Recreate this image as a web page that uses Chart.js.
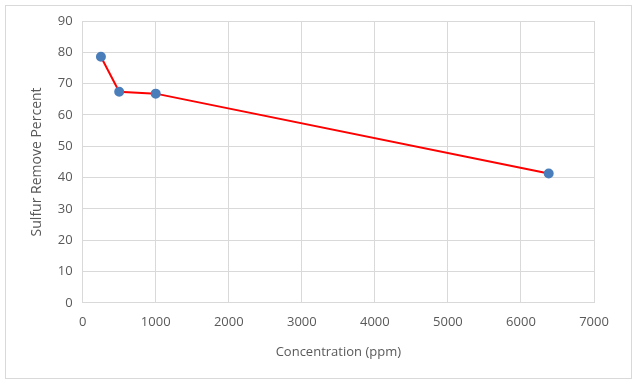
<!DOCTYPE html>
<html lang="en">
  <head>
    <meta charset="UTF-8" />
    <title>Sulfur Remove Percent vs Concentration</title>
    <style>
      body {
        margin: 0;
        background-color: #ffffff;
      }
      #wrap {
        width: 637px;
        height: 385px;
      }
    </style>
    <script src="https://cdn.jsdelivr.net/npm/chart.js"></script>
  </head>
  <body>
    <div id="wrap"><canvas id="sulfurChart" width="637" height="385"></canvas></div>

    <script>
      // data
      const concentration = [250, 500, 1000, 6380]; // ppm
      const sulfurRemoved = [78.6, 67.4, 66.8, 41.3]; // percent

      const xTicks = [0, 1000, 2000, 3000, 4000, 5000, 6000, 7000];
      const yTicks = [0, 10, 20, 30, 40, 50, 60, 70, 80, 90];

      const gridColor = "#d9d9d9";
      const textColor = "#595959";

      // thin grey frame around the whole chart, like the office chart border
      const frame = {
        id: "frame",
        beforeDraw(chart) {
          const c = chart.ctx;
          c.save();
          c.fillStyle = "#ffffff";
          c.fillRect(0, 0, chart.width, chart.height);
          c.strokeStyle = "#d9d9d9";
          c.lineWidth = 1;
          c.strokeRect(5.5, 5.5, 626, 373);
          c.restore();
        },
      };

      const points = concentration.map((x, i) => ({ x: x, y: sulfurRemoved[i] }));

      new Chart(document.getElementById("sulfurChart"), {
        type: "scatter",
        data: {
          datasets: [
            {
              label: "Sulfur Remove Percent",
              data: points,
              showLine: true,
              tension: 0,
              borderColor: "#ff0000",
              borderWidth: 2,
              pointBackgroundColor: "#4a7ebb",
              pointBorderColor: "#4a7ebb",
              pointRadius: 4,
              pointHoverRadius: 4,
            },
          ],
        },
        options: {
          responsive: false,
          animation: false,
          layout: {
            padding: { left: 25, right: 43, top: 21, bottom: 21 },
          },
          plugins: {
            legend: { display: false },
            tooltip: { enabled: false },
          },
          scales: {
            x: {
              type: "linear",
              min: 0,
              max: 7000,
              afterBuildTicks(axis) {
                axis.ticks = xTicks.map((v) => ({ value: v }));
              },
              grid: { color: gridColor, drawTicks: false },
              border: { color: gridColor },
              ticks: {
                color: textColor,
                font: { family: "Open Sans", size: 13 },
                padding: 12,
                maxRotation: 0,
                callback: (v) => String(v),
              },
              title: {
                display: true,
                text: "Concentration (ppm)",
                color: textColor,
                font: { family: "Open Sans", size: 13 },
                padding: { top: 2 },
              },
            },
            y: {
              min: 0,
              max: 90,
              afterBuildTicks(axis) {
                axis.ticks = yTicks.map((v) => ({ value: v }));
              },
              grid: { color: gridColor, drawTicks: false },
              border: { color: gridColor },
              ticks: {
                color: textColor,
                font: { family: "Open Sans", size: 13 },
                padding: 10,
              },
              title: {
                display: true,
                text: "Sulfur Remove Percent",
                color: textColor,
                font: { family: "Open Sans", size: 14 },
                padding: { bottom: 2 },
              },
            },
          },
        },
        plugins: [frame],
      });
    </script>
  </body>
</html>
